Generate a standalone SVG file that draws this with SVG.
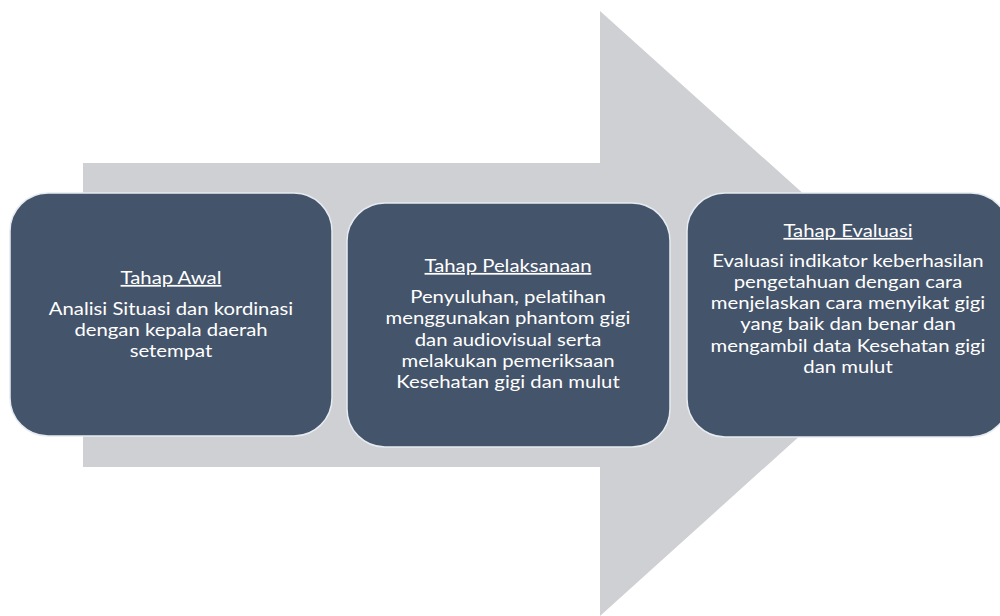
<svg xmlns="http://www.w3.org/2000/svg" width="1000" height="616" viewBox="0 0 1000 616">
<style>
.box{fill:#44546a;stroke:#e6ebf2;stroke-width:1.5}
.t{font-family:Lato,"Open Sans","Liberation Sans",sans-serif;font-size:17.5px;fill:#ffffff;text-anchor:middle;font-variant-ligatures:none}
.h{text-decoration:underline}
</style>
<rect width="1000" height="616" fill="#ffffff"/>
<g id="connectors">
<polygon id="arrow" points="83,163 600,163 600,11 936,313 600,616 600,467 83,467" fill="#cfd0d3"/>
</g>
<g id="node-awal">
<rect class="box" x="10" y="193" width="322" height="243" rx="38"/>
<g transform="translate(171 0) scale(1.16 1)">
<text class="t h" x="0" y="284">Tahap Awal</text>
<text class="t" x="0" y="315">Analisi Situasi dan kordinasi</text>
<text class="t" x="0" y="336">dengan kepala daerah</text>
<text class="t" x="0" y="357">setempat</text>
</g>
</g>
<g id="node-pelaksanaan">
<rect class="box" x="347" y="203" width="323" height="244" rx="38"/>
<g transform="translate(508 0) scale(1.16 1)">
<text class="t h" x="0" y="272">Tahap Pelaksanaan</text>
<text class="t" x="0" y="303">Penyuluhan, pelatihan</text>
<text class="t" x="0" y="324">menggunakan phantom gigi</text>
<text class="t" x="0" y="346">dan audiovisual serta</text>
<text class="t" x="0" y="367">melakukan pemeriksaan</text>
<text class="t" x="0" y="388">Kesehatan gigi dan mulut</text>
</g>
</g>
<g id="node-evaluasi">
<rect class="box" x="687" y="193" width="322" height="244" rx="38"/>
<g transform="translate(848 0) scale(1.16 1)">
<text class="t h" x="0" y="237">Tahap Evaluasi</text>
<text class="t" x="0" y="267">Evaluasi indikator keberhasilan</text>
<text class="t" x="0" y="288">pengetahuan dengan cara</text>
<text class="t" x="0" y="309">menjelaskan cara menyikat gigi</text>
<text class="t" x="0" y="330">yang baik dan benar dan</text>
<text class="t" x="0" y="352">mengambil data Kesehatan gigi</text>
<text class="t" x="0" y="373">dan mulut</text>
</g>
</g>
</svg>
